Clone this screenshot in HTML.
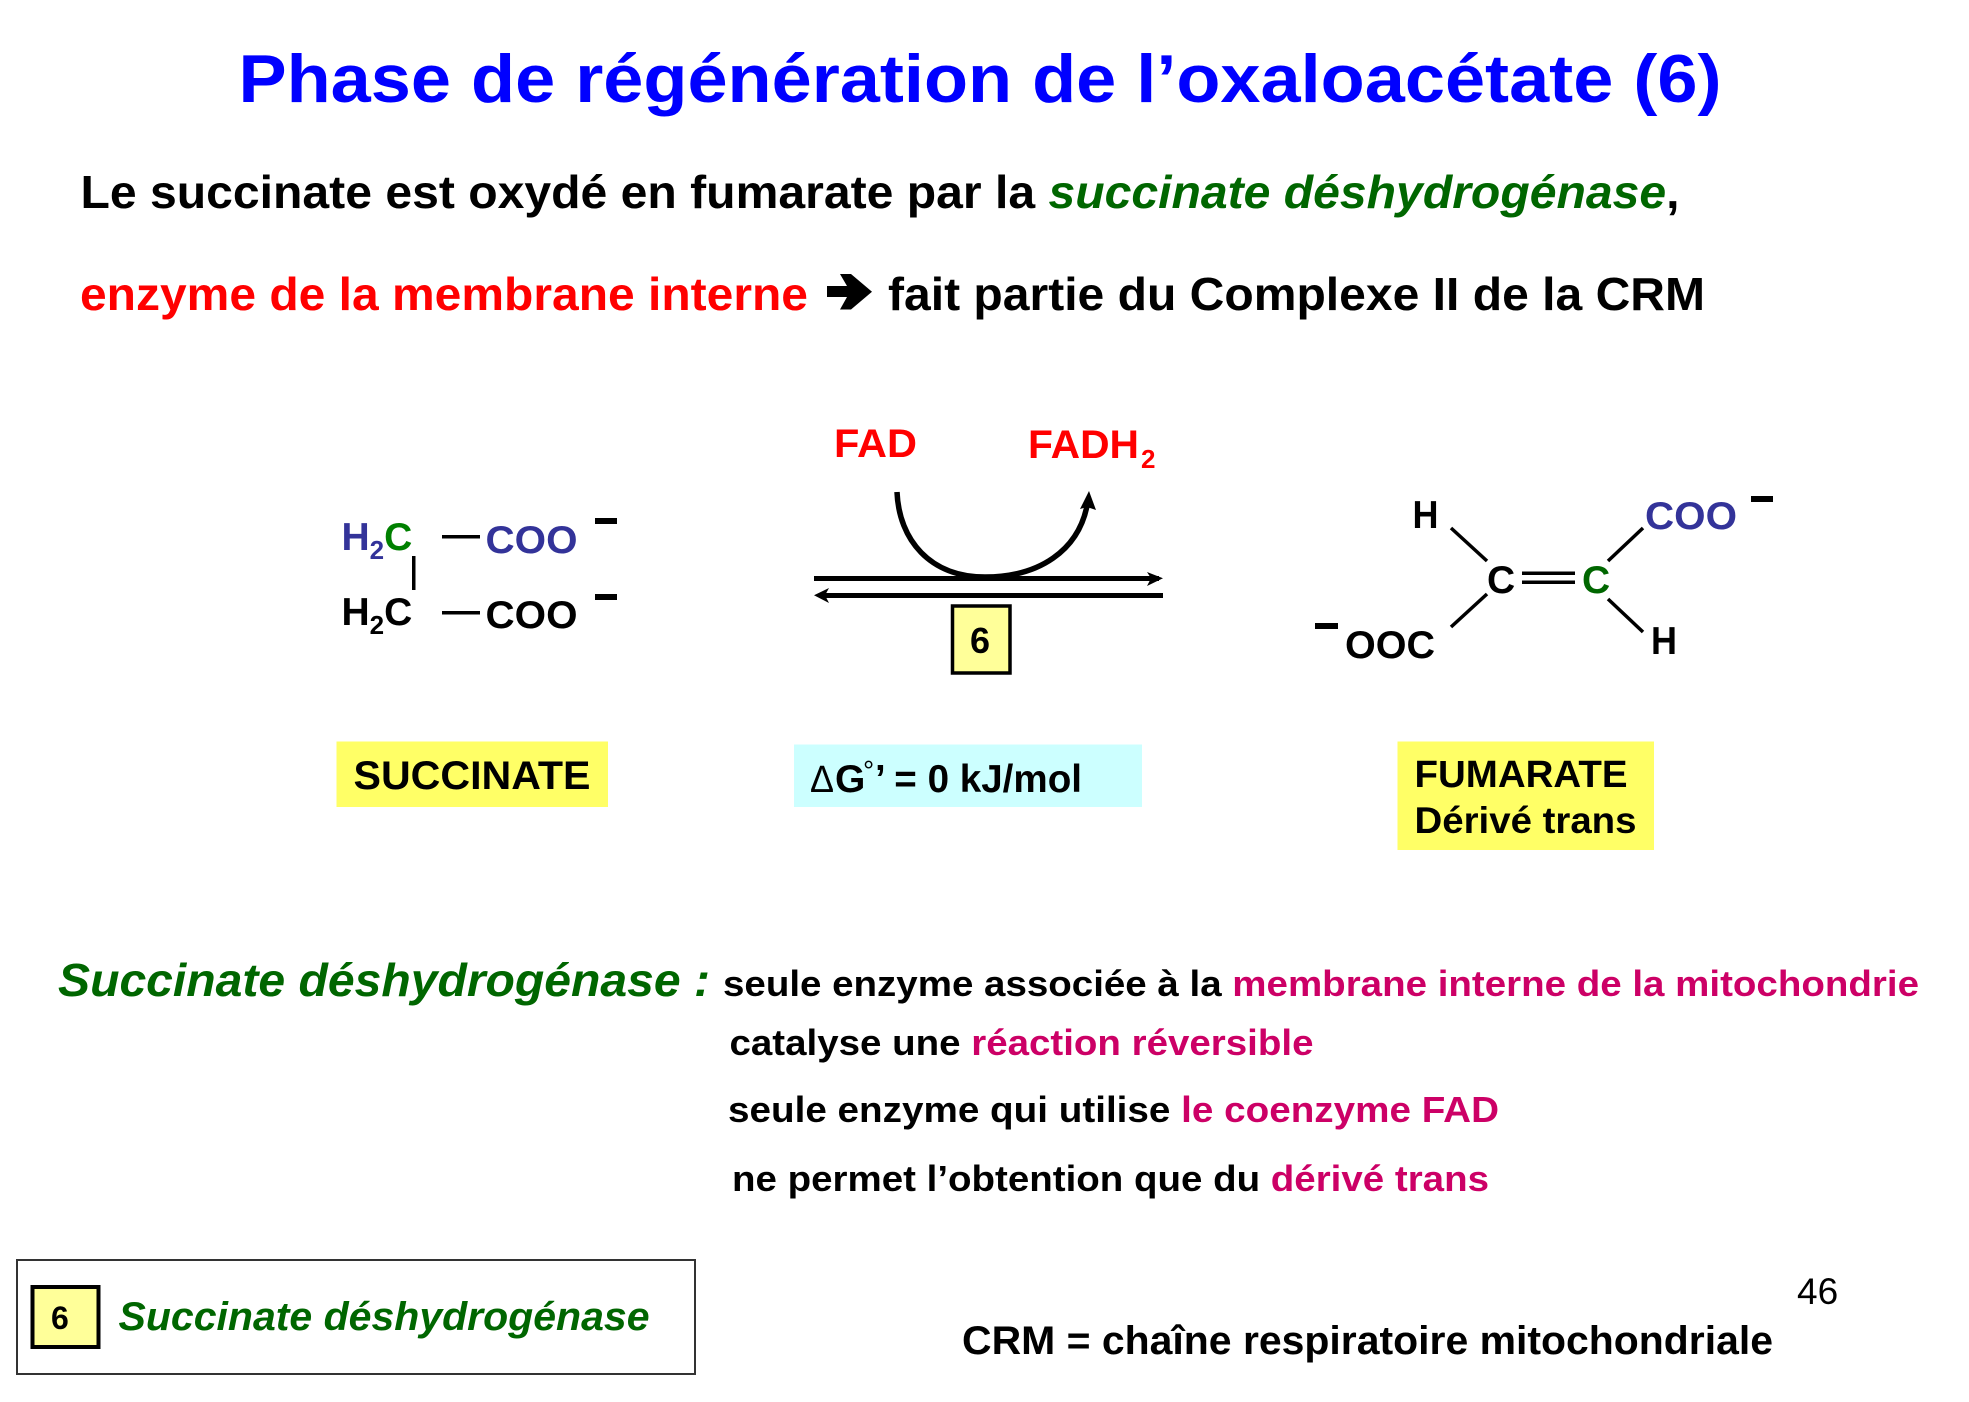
<!DOCTYPE html>
<html><head><meta charset="utf-8"><style>
html,body{margin:0;padding:0;background:#fff}
svg{display:block}
text{font-family:"Liberation Sans",sans-serif;font-weight:bold;fill:#000}
.g{fill:#006600}.r{fill:#ff0000}.m{fill:#cc0066}.b{fill:#333399}.gg{fill:#008000}
</style></head><body>
<svg width="1969" height="1402" viewBox="0 0 1969 1402" xmlns="http://www.w3.org/2000/svg">
<rect width="1969" height="1402" fill="#fff"/>
<text x="238.5" y="102" font-size="68" style="fill:#0000ff" textLength="1483" lengthAdjust="spacingAndGlyphs">Phase de régénération de l’oxaloacétate (6)</text>
<text x="80.5" y="208" font-size="46" textLength="1599" lengthAdjust="spacingAndGlyphs">Le succinate est oxydé en fumarate par la <tspan class="g" font-style="italic">succinate déshydrogénase</tspan>,</text>
<text x="80" y="310" font-size="46" class="r" textLength="728" lengthAdjust="spacingAndGlyphs">enzyme de la membrane interne</text>
<path d="M827 286H847L840 274H851L872 291.7L851 309.5H840L847 297H827Z" fill="#000"/>
<text x="888" y="310" font-size="46" textLength="817" lengthAdjust="spacingAndGlyphs">fait partie du Complexe II de la CRM</text>

<!-- succinate -->
<text x="341.5" y="550" font-size="39" class="b">H<tspan font-size="26" dy="9">2</tspan><tspan dy="-9" class="gg">C</tspan></text>
<text x="341.5" y="625" font-size="39">H<tspan font-size="26" dy="9">2</tspan><tspan dy="-9">C</tspan></text>
<rect x="442" y="535" width="38" height="3.5"/>
<rect x="442" y="611" width="38" height="3.5"/>
<rect x="412" y="556" width="3.5" height="34"/>
<text x="485.5" y="553" font-size="39" class="b" textLength="92" lengthAdjust="spacingAndGlyphs">COO</text>
<text x="485.5" y="628" font-size="39" textLength="92" lengthAdjust="spacingAndGlyphs">COO</text>
<rect x="595" y="518" width="22" height="6"/>
<rect x="595" y="594" width="22" height="6"/>
<rect x="336.5" y="741.5" width="271.5" height="65.5" fill="#ffff66"/>
<text x="353.5" y="789" font-size="40" textLength="237" lengthAdjust="spacingAndGlyphs">SUCCINATE</text>

<!-- reaction -->
<text x="834" y="457" font-size="40" class="r" textLength="83" lengthAdjust="spacingAndGlyphs">FAD</text>
<text x="1028" y="458" font-size="40" class="r" textLength="111" lengthAdjust="spacingAndGlyphs">FADH</text>
<text x="1141" y="468" font-size="26" class="r">2</text>
<path d="M897 492C899 540 930 577 985 577C1040 577 1078 550 1087 506" fill="none" stroke="#000" stroke-width="5.5"/>
<path d="M1089 491L1096 510L1087 507L1080 509Z" fill="#000"/>
<rect x="814" y="576" width="345" height="5"/>
<path d="M1147 572L1163 578.3L1147 586L1151 578.3Z" fill="#000"/>
<rect x="820" y="593" width="343" height="5"/>
<path d="M829 588L814 595.2L829 603L825 595.2Z" fill="#000"/>
<rect x="952.5" y="606" width="57.5" height="67" fill="#ffff99" stroke="#000" stroke-width="3.5"/>
<text x="970" y="653" font-size="36">6</text>
<rect x="794" y="744.5" width="348" height="62.5" fill="#ccffff"/>
<text x="810" y="792" font-size="38" style="font-weight:normal" textLength="24" lengthAdjust="spacingAndGlyphs">Δ</text>
<text x="835" y="792" font-size="39">G</text>
<text x="863" y="780" font-size="28" style="font-weight:normal">°</text>
<text x="875" y="792" font-size="39" textLength="207" lengthAdjust="spacingAndGlyphs">’ = 0 kJ/mol</text>

<!-- fumarate -->
<text x="1412.5" y="528" font-size="39" textLength="26" lengthAdjust="spacingAndGlyphs">H</text>
<line x1="1451" y1="528" x2="1487" y2="561" stroke="#000" stroke-width="3.5"/>
<text x="1487" y="593" font-size="39">C</text>
<rect x="1522" y="571.5" width="53" height="3.5"/>
<rect x="1522" y="580.5" width="53" height="3.5"/>
<text x="1582" y="593" font-size="39" class="g">C</text>
<line x1="1608" y1="561" x2="1643" y2="528" stroke="#000" stroke-width="3.5"/>
<text x="1645" y="529" font-size="39" class="b" textLength="92" lengthAdjust="spacingAndGlyphs">COO</text>
<rect x="1751" y="496" width="22" height="6"/>
<line x1="1487" y1="594" x2="1451" y2="627" stroke="#000" stroke-width="3.5"/>
<rect x="1315" y="623" width="23" height="6"/>
<text x="1345" y="658" font-size="39" textLength="90" lengthAdjust="spacingAndGlyphs">OOC</text>
<line x1="1608" y1="599" x2="1643" y2="632" stroke="#000" stroke-width="3.5"/>
<text x="1651" y="654" font-size="39" textLength="26" lengthAdjust="spacingAndGlyphs">H</text>
<rect x="1397.5" y="741.5" width="256.5" height="108.5" fill="#ffff66"/>
<text x="1414.5" y="787" font-size="38" textLength="213" lengthAdjust="spacingAndGlyphs">FUMARATE</text>
<text x="1414.5" y="833" font-size="37" textLength="222" lengthAdjust="spacingAndGlyphs">Dérivé trans</text>

<!-- notes -->
<text x="58" y="996" font-size="46" class="g" font-style="italic" textLength="652" lengthAdjust="spacingAndGlyphs">Succinate déshydrogénase :</text>
<text x="723" y="996" font-size="36.5" textLength="1196" lengthAdjust="spacingAndGlyphs">seule enzyme associée à la <tspan class="m">membrane interne de la mitochondrie</tspan></text>
<text x="729.5" y="1055" font-size="36.5" textLength="584" lengthAdjust="spacingAndGlyphs">catalyse une <tspan class="m">réaction réversible</tspan></text>
<text x="728" y="1122" font-size="36.5" textLength="771" lengthAdjust="spacingAndGlyphs">seule enzyme qui utilise <tspan class="m">le coenzyme FAD</tspan></text>
<text x="732" y="1191" font-size="36.5" textLength="757" lengthAdjust="spacingAndGlyphs">ne permet l’obtention que du <tspan class="m">dérivé trans</tspan></text>

<!-- legend -->
<rect x="17" y="1260" width="678" height="114" fill="#fff" stroke="#333" stroke-width="2"/>
<rect x="32.5" y="1287" width="66" height="60" fill="#ffff99" stroke="#000" stroke-width="4"/>
<text x="51" y="1329" font-size="32">6</text>
<text x="118.5" y="1330" font-size="40" class="g" font-style="italic" textLength="531" lengthAdjust="spacingAndGlyphs">Succinate déshydrogénase</text>
<text x="1797" y="1304" font-size="37" style="font-weight:normal">46</text>
<text x="962" y="1354" font-size="40" textLength="811" lengthAdjust="spacingAndGlyphs">CRM = chaîne respiratoire mitochondriale</text>
</svg>
</body></html>
